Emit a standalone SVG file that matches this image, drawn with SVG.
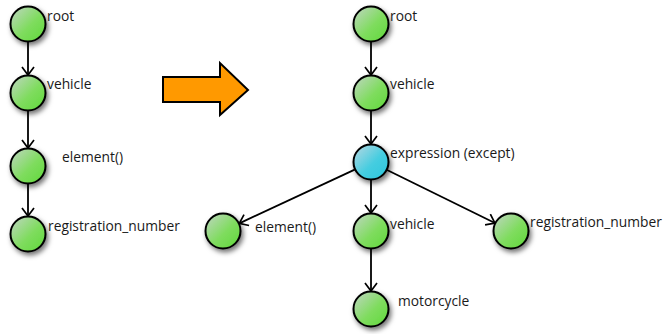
<svg xmlns="http://www.w3.org/2000/svg" width="664" height="334" viewBox="0 0 664 334">
  <defs>
    <linearGradient id="gGreen" x1="0" y1="0" x2="1" y2="1">
      <stop offset="0" stop-color="#c2d6c6"/>
      <stop offset="0.55" stop-color="#7fdc5e"/>
      <stop offset="1" stop-color="#5fd83a"/>
    </linearGradient>
    <linearGradient id="gBlue" x1="0" y1="0" x2="1" y2="1">
      <stop offset="0" stop-color="#bcd8e2"/>
      <stop offset="0.55" stop-color="#45cde0"/>
      <stop offset="1" stop-color="#2cc6dc"/>
    </linearGradient>
    <filter id="shadow" x="-50%" y="-50%" width="200%" height="200%">
      <feDropShadow dx="2" dy="3" stdDeviation="2.5" flood-color="#000" flood-opacity="0.55"/>
    </filter>
    <marker id="arrow" viewBox="-10 -7 12 14" refX="0" refY="0" markerWidth="12" markerHeight="14" markerUnits="userSpaceOnUse" orient="auto">
      <path d="M -8 -6 L 0 0 L -8 6" fill="none" stroke="#000" stroke-width="1.7"/>
    </marker>
  </defs>
  <style>
    .node circle { stroke: #000; stroke-width: 2; filter: url(#shadow); }
    .green { fill: url(#gGreen); }
    .blue { fill: url(#gBlue); }
    .label { font-family: "Open Sans", "DejaVu Sans", sans-serif; font-size: 13.8px; fill: #1a1a1a; }
    .edge { stroke: #000; stroke-width: 1.8; fill: none; marker-end: url(#arrow); }
  </style>

  <!-- connectors -->
  <g id="connectors">
    <line class="edge" x1="28" y1="42" x2="28" y2="75"/>
    <line class="edge" x1="28" y1="111" x2="28" y2="148"/>
    <line class="edge" x1="28" y1="184" x2="28" y2="216"/>
    <line class="edge" x1="371" y1="42" x2="371" y2="75"/>
    <line class="edge" x1="371" y1="111" x2="371" y2="144"/>
    <line class="edge" x1="371" y1="180" x2="371" y2="213"/>
    <line class="edge" x1="371" y1="249" x2="371" y2="291"/>
    <line class="edge" x1="354.7" y1="169.6" x2="239.3" y2="223.4"/>
    <line class="edge" x1="387.1" y1="170" x2="494.9" y2="223"/>
  </g>

  <!-- transformation arrow -->
  <g id="transform-arrow">
    <path d="M 163 77 L 220 77 L 220 63 L 248 90 L 220 115 L 220 102 L 163 102 Z" fill="#ff9900" stroke="#000" stroke-width="2" stroke-linejoin="miter"/>
  </g>

  <!-- tree before -->
  <g id="l-root" class="node">
    <circle class="green" cx="28" cy="24" r="17.5"/>
    <text class="label" x="47" y="21">root</text>
  </g>
  <g id="l-vehicle" class="node">
    <circle class="green" cx="28" cy="93" r="17.5"/>
    <text class="label" x="47" y="89">vehicle</text>
  </g>
  <g id="l-element" class="node">
    <circle class="green" cx="28" cy="166" r="17.5"/>
    <text class="label" x="62" y="162">element()</text>
  </g>
  <g id="l-registration" class="node">
    <circle class="green" cx="28" cy="234" r="17.5"/>
    <text class="label" x="48" y="231">registration_number</text>
  </g>

  <!-- tree after -->
  <g id="r-root" class="node">
    <circle class="green" cx="371" cy="24" r="17.5"/>
    <text class="label" x="390" y="21">root</text>
  </g>
  <g id="r-vehicle" class="node">
    <circle class="green" cx="371" cy="93" r="17.5"/>
    <text class="label" x="390" y="89">vehicle</text>
  </g>
  <g id="r-expression" class="node">
    <circle class="blue" cx="371" cy="162" r="17.5"/>
    <text class="label" x="390" y="158">expression (except)</text>
  </g>
  <g id="r-element" class="node">
    <circle class="green" cx="223" cy="231" r="17.5"/>
    <text class="label" x="255" y="232">element()</text>
  </g>
  <g id="r-vehicle2" class="node">
    <circle class="green" cx="371" cy="231" r="17.5"/>
    <text class="label" x="390" y="229">vehicle</text>
  </g>
  <g id="r-registration" class="node">
    <circle class="green" cx="511" cy="231" r="17.5"/>
    <text class="label" x="530" y="227">registration_number</text>
  </g>
  <g id="r-motorcycle" class="node">
    <circle class="green" cx="371" cy="309" r="17.5"/>
    <text class="label" x="398" y="306">motorcycle</text>
  </g>
</svg>
